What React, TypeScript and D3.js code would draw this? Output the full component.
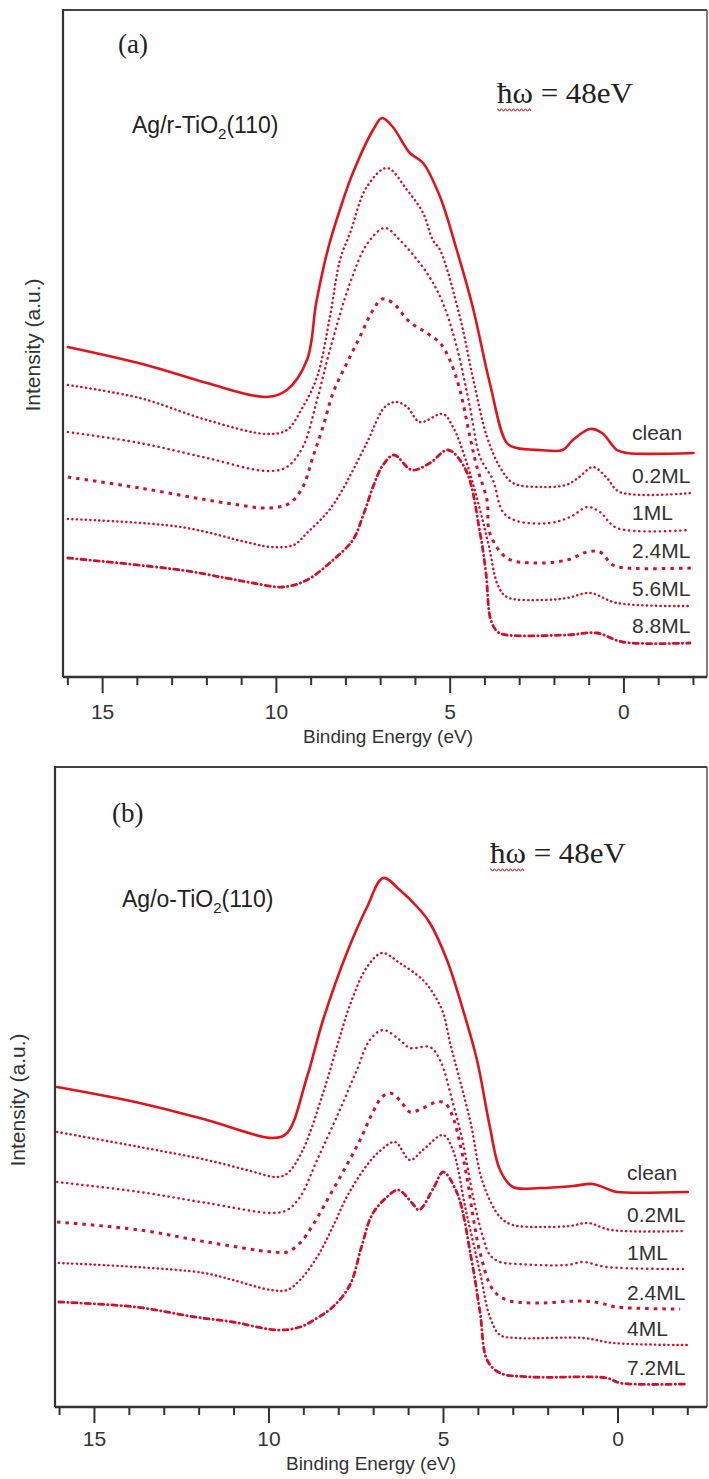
import React from 'react';
import * as d3 from 'd3';

type Pt = [number, number];

// panel (a) Ag/r-TiO2(110) -- [binding energy (eV), intensity (a.u.)]
const aClean: Pt[] = [[16.0, 330], [13.75, 312], [12.0, 294], [10.27, 280], [9.7, 287], [9.12, 317], [8.85, 375], [8.5, 430], [8.1, 475], [7.8, 504], [7.22, 547], [6.96, 559], [6.65, 550], [6.16, 524], [5.78, 514], [5.29, 480], [4.81, 427], [4.35, 370], [3.86, 294], [3.37, 234], [3.08, 229], [2.42, 227], [1.76, 227], [1.47, 237], [0.98, 248], [0.63, 244], [0.2, 227], [-0.09, 224], [-2.0, 224]];
const a02: Pt[] = [[16.0, 292], [13.93, 279], [12.0, 257], [10.27, 243], [9.7, 247], [9.24, 270], [8.83, 300], [8.46, 360], [8.17, 417], [7.88, 444], [7.4, 490], [6.82, 509], [6.24, 487], [5.78, 464], [5.5, 437], [5.29, 427], [4.72, 360], [4.35, 300], [3.94, 240], [3.57, 210], [3.19, 194], [2.42, 190], [1.67, 192], [1.32, 199], [0.89, 210], [0.49, 199], [0.12, 185], [-1.96, 184]];
const a1: Pt[] = [[16.0, 245], [13.93, 234], [12.0, 219], [10.27, 206], [9.7, 210], [9.24, 230], [8.83, 277], [8.46, 327], [7.88, 394], [7.37, 434], [6.88, 449], [6.45, 437], [5.67, 404], [5.21, 374], [4.81, 330], [4.43, 270], [4.14, 220], [3.77, 197], [3.48, 165], [3.08, 156], [2.13, 154], [1.55, 160], [1.04, 170], [0.69, 165], [0.2, 149], [-1.9, 147]];
const a24: Pt[] = [[16.0, 200], [13.93, 189], [11.45, 174], [10.16, 169], [9.61, 174], [9.24, 190], [8.95, 220], [8.66, 250], [8.37, 284], [7.97, 314], [7.6, 340], [7.22, 367], [6.96, 378], [6.65, 374], [6.16, 355], [5.67, 344], [5.29, 334], [5.01, 317], [4.72, 287], [4.43, 240], [4.23, 210], [3.94, 177], [3.86, 144], [3.37, 119], [2.62, 114], [1.64, 117], [1.06, 125], [0.69, 125], [0.32, 112], [-0.09, 109], [-2.0, 109]];
const a56: Pt[] = [[16.0, 158], [12.75, 150], [10.76, 134], [10.16, 130], [9.5, 132], [9.12, 144], [8.55, 164], [8.17, 183], [7.4, 234], [6.88, 270], [6.56, 275], [6.24, 270], [5.87, 255], [5.21, 263], [4.92, 250], [4.55, 217], [4.14, 167], [3.88, 130], [3.63, 92], [3.37, 80], [2.33, 77], [1.64, 79], [0.98, 84], [0.2, 74], [-1.84, 71]];
const a88: Pt[] = [[16.0, 119], [12.75, 107], [11.45, 99], [10.68, 94], [9.81, 90], [9.12, 97], [8.37, 117], [7.8, 137], [7.5, 162], [7.2, 192], [6.95, 211], [6.62, 222], [6.1, 207], [5.58, 214], [5.06, 227], [4.55, 207], [4.14, 144], [3.97, 104], [3.83, 57], [3.63, 45], [3.37, 42], [1.64, 42], [0.78, 44], [0.03, 35], [-1.9, 34]];
const aLabels = ['clean', '0.2ML', '1ML', '2.4ML', '5.6ML', '8.8ML'];

// panel (b) Ag/o-TiO2(110)
const bClean: Pt[] = [[16.07, 320], [13.7, 304], [11.78, 287], [9.89, 269], [9.48, 274], [8.91, 330], [8.45, 387], [7.77, 454], [7.19, 500], [6.73, 529], [6.25, 517], [5.67, 497], [5.39, 484], [4.9, 447], [4.44, 397], [4.04, 347], [3.67, 280], [3.38, 237], [3.01, 220], [2.23, 219], [1.29, 221], [0.72, 223], [0.23, 217], [0.03, 215], [-2.0, 215]];
const b02: Pt[] = [[16.07, 275], [13.7, 260], [11.78, 247], [10.63, 237], [9.77, 230], [9.46, 234], [9.03, 257], [8.45, 314], [7.97, 370], [7.68, 402], [7.19, 440], [6.76, 454], [6.25, 444], [5.59, 427], [5.3, 414], [5.01, 394], [4.81, 364], [4.24, 287], [3.87, 224], [3.38, 190], [3.01, 182], [2.23, 180], [1.38, 181], [0.86, 184], [0.2, 177], [-1.86, 176]];
const b1: Pt[] = [[16.07, 225], [13.7, 215], [11.78, 204], [9.89, 194], [9.48, 197], [9.11, 210], [8.62, 247], [7.97, 297], [7.48, 337], [7.11, 367], [6.73, 377], [6.25, 367], [5.96, 359], [5.39, 360], [5.1, 347], [4.73, 304], [4.44, 264], [4.15, 210], [3.87, 170], [3.67, 152], [3.38, 145], [2.89, 143], [1.46, 142], [1.0, 145], [0.32, 140], [-1.86, 138]];
const b24: Pt[] = [[16.07, 185], [13.7, 177], [11.78, 165], [9.89, 155], [9.48, 155], [9.11, 164], [8.74, 182], [8.25, 212], [7.77, 242], [7.39, 267], [7.02, 295], [6.76, 310], [6.53, 314], [6.25, 307], [5.96, 295], [5.59, 299], [5.19, 305], [4.96, 304], [4.73, 290], [4.53, 264], [4.33, 230], [4.15, 190], [3.95, 154], [3.58, 117], [3.18, 107], [2.44, 104], [1.0, 106], [0.52, 104], [0.03, 100], [-1.78, 98]];
const b4: Pt[] = [[16.02, 144], [13.81, 140], [11.86, 134], [11.03, 127], [9.94, 117], [9.48, 117], [9.11, 127], [8.62, 150], [8.2, 178], [7.74, 212], [7.19, 242], [6.82, 256], [6.39, 265], [5.96, 247], [5.59, 257], [5.01, 272], [4.73, 257], [4.36, 197], [3.95, 134], [3.67, 90], [3.38, 72], [2.89, 69], [1.0, 69], [0.14, 64], [-1.98, 62]];
const b72: Pt[] = [[16.02, 105], [13.81, 100], [12.12, 90], [11.03, 85], [9.77, 77], [9.11, 80], [8.62, 89], [8.17, 100], [7.68, 122], [7.35, 160], [7.05, 192], [6.68, 208], [6.3, 217], [5.9, 204], [5.7, 197], [5.27, 220], [5.01, 235], [4.61, 214], [4.21, 150], [3.95, 94], [3.75, 47], [3.38, 34], [2.44, 30], [0.32, 29], [-0.06, 24], [-1.98, 23]];
const bLabels = ['clean', '0.2ML', '1ML', '2.4ML', '4ML', '7.2ML'];

const labeledTicks = [15, 10, 5, 0];
const allTicks = d3.range(16, -2.5, -1);

const RED = '#e0141c';
const DOT = '#d2102a';
const AXIS = '#333';
const SANS = 'Liberation Sans, Arial, sans-serif';
const SERIF = 'Liberation Serif, Times New Roman, serif';

const lineStyles = [
  { w: 2.6, dash: undefined, cap: 'round', c: RED },
  { w: 2.4, dash: '0.3 4.3', cap: 'round', c: DOT },
  { w: 2.4, dash: '0.3 4.8', cap: 'round', c: DOT },
  { w: 3, dash: '3.5 5', cap: 'butt', c: DOT },
  { w: 2.4, dash: '0.3 4.2', cap: 'round', c: DOT },
  { w: 2.8, dash: '5 4 0.3 4', cap: 'round', c: DOT },
];

function Panel(props: any) {
  const { top, bottom, left, right, domain, series, labels, tag, sample, tagPos, samplePos, hwPos, ylabX, ylabY, labX, xlabX, tickDy, xlabDy, labOff } = props;
  const x = d3.scaleLinear().domain(domain).range([left, right]);
  const y = d3.scaleLinear().domain([0, bottom - top]).range([bottom, top]);
  const line = d3.line<Pt>().x(d => x(d[0])).y(d => y(d[1])).curve(d3.curveCatmullRom.alpha(0.5));

  // red spell-check squiggle under the hbar-omega
  const wave = d3.range(0, 35, 1).map(i => [hwPos[0] + i, hwPos[1] + 6 + (i % 4 < 2 ? 0 : 2)] as [number, number]);

  return (
    <g>
      <line x1={left} y1={top} x2={right} y2={top} stroke="#444" strokeWidth={2} />
      <line x1={right} y1={top} x2={right} y2={bottom} stroke="#555" strokeWidth={1.5} />
      <line x1={left} y1={top - 1} x2={left} y2={bottom} stroke={AXIS} strokeWidth={2.2} />
      <line x1={left} y1={bottom} x2={right} y2={bottom} stroke={AXIS} strokeWidth={2.4} />
      {allTicks.map(t => {
        const major = labeledTicks.includes(t);
        return <line key={t} x1={x(t)} x2={x(t)} y1={bottom} y2={bottom + (major ? 16 : 8)} stroke={AXIS} strokeWidth={2} />;
      })}
      {labeledTicks.map(t => (
        <text key={t} x={x(t)} y={bottom + tickDy} textAnchor="middle" fontFamily={SANS} fontSize={21} fill="#333">{t}</text>
      ))}
      <text x={xlabX} y={bottom + xlabDy} textAnchor="middle" fontFamily={SANS} fontSize={19} fill="#333">Binding Energy (eV)</text>
      <text transform={`translate(${ylabX},${ylabY}) rotate(-90)`} textAnchor="middle" fontFamily={SANS} fontSize={21} fill="#333">Intensity (a.u.)</text>

      <text x={tagPos[0]} y={tagPos[1]} fontFamily={SERIF} fontSize={27} fill="#222">{tag}</text>
      <text x={samplePos[0]} y={samplePos[1]} fontFamily={SANS} fontSize={23} fill="#222">
        {sample}-TiO<tspan fontSize={15} dy={6}>2</tspan><tspan dy={-6}>(110)</tspan>
      </text>
      <text x={hwPos[0]} y={hwPos[1]} fontFamily={SERIF} fontSize={30} fill="#222" textLength={136} lengthAdjust="spacingAndGlyphs">ħω = 48eV</text>
      <path d={d3.line()(wave) || ''} fill="none" stroke="#e03030" strokeWidth={1} />

      {series.map((s: Pt[], i: number) => {
        const st = lineStyles[i];
        return (
          <path key={i} d={line(s) || ''} fill="none" stroke={st.c} strokeWidth={st.w}
            strokeDasharray={st.dash} strokeLinecap={st.cap as any} strokeLinejoin="round" />
        );
      })}
      {series.map((s: Pt[], i: number) => (
        <text key={labels[i]} x={labX} y={y(s[s.length - 1][1]) - (i === 0 ? labOff + 3 : labOff)}
          fontFamily={SANS} fontSize={21} fill="#333">{labels[i]}</text>
      ))}
    </g>
  );
}

export default function App() {
  return (
    <svg width={709} height={1479} style={{ position: 'absolute', left: 0, top: 0, background: '#fff' }}>
      <rect x={0} y={0} width={709} height={1479} fill="#fff" />
      <Panel top={10} bottom={677} left={63} right={707} domain={[16.14, -2.39]}
        series={[aClean, a02, a1, a24, a56, a88]} labels={aLabels}
        tag="(a)" sample="Ag/r" tagPos={[118, 53]} samplePos={[132, 133]} hwPos={[497, 103]}
        ylabX={40} ylabY={345} labX={632} xlabX={388} tickDy={42} xlabDy={66} labOff={10} />
      <Panel top={767} bottom={1407} left={55} right={707} domain={[16.13, -2.55]}
        series={[bClean, b02, b1, b24, b4, b72]} labels={bLabels}
        tag="(b)" sample="Ag/o" tagPos={[112, 822]} samplePos={[122, 907]} hwPos={[490, 863]}
        ylabX={25} ylabY={1100} labX={627} xlabX={371} tickDy={39} xlabDy={63} labOff={9} />
    </svg>
  );
}
